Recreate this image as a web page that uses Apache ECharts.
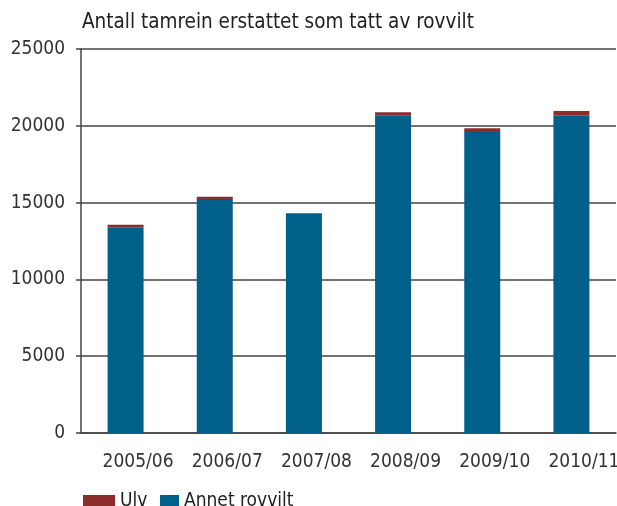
<!DOCTYPE html>
<html>
<head>
<meta charset="UTF-8">
<title>Antall tamrein</title>
<script src="https://cdn.jsdelivr.net/npm/echarts@6/dist/echarts.min.js"></script>
<style>
  html, body { margin: 0; padding: 0; background: #fff; }
  #chart { width: 617px; height: 506px; }
</style>
</head>
<body>
<div id="chart"></div>
<script>
  // data
  var seasons = ['2005/06', '2006/07', '2007/08', '2008/09', '2009/10', '2010/11'];
  var ulv = [150, 150, 0, 200, 180, 300];
  var annet = [13400, 15230, 14300, 20680, 19660, 20660];

  var font = '"DejaVu Sans Condensed", "Liberation Sans Narrow", sans-serif';
  var chart = echarts.init(document.getElementById('chart'));

  chart.setOption({
    backgroundColor: '#fff',
    animation: false,
    title: {
      text: 'Antall tamrein erstattet som tatt av rovvilt',
      left: 77,
      top: 7,
      textStyle: { fontFamily: font, fontSize: 20.5, fontWeight: 'normal', color: '#222' }
    },
    legend: [{
      data: ['Ulv'],
      left: 78, top: 487,
      itemWidth: 32, itemHeight: 13,
      icon: 'rect',
      textStyle: { fontFamily: font, fontSize: 19, color: '#222' }
    }, {
      data: ['Annet rovvilt'],
      left: 155, top: 487,
      itemWidth: 19, itemHeight: 13,
      icon: 'rect',
      textStyle: { fontFamily: font, fontSize: 19, color: '#222' }
    }],
    grid: { left: 81, right: 1, top: 49, bottom: 73, outerBoundsMode: 'none' },
    xAxis: {
      type: 'category',
      data: seasons,
      axisLine: { lineStyle: { color: '#444', width: 1.5 } },
      axisTick: { length: 7, lineStyle: { color: '#444', width: 1.5 } },
      axisLabel: {
        interval: 0,
        fontFamily: font, fontSize: 19, color: '#333', margin: 20,
        padding: [0, 0, 0, 25]
      }
    },
    yAxis: {
      type: 'value',
      min: 0, max: 25000, interval: 5000,
      axisLine: { show: true, lineStyle: { color: '#444', width: 1.5 } },
      axisTick: { show: true, length: 5, lineStyle: { color: '#444', width: 1.5 } },
      axisLabel: {
        fontFamily: font, fontSize: 19, color: '#333', margin: 16,
        formatter: function (v) { return String(v); }
      },
      splitLine: { lineStyle: { color: '#444', width: 1.5 } }
    },
    series: [{
      name: 'Annet rovvilt',
      type: 'bar',
      stack: 'total',
      barWidth: 36,
      data: annet,
      itemStyle: { color: '#00608a' }
    }, {
      name: 'Ulv',
      type: 'bar',
      stack: 'total',
      barWidth: 36,
      data: ulv,
      itemStyle: { color: '#8c2d2b' }
    }]
  });
</script>
</body>
</html>
